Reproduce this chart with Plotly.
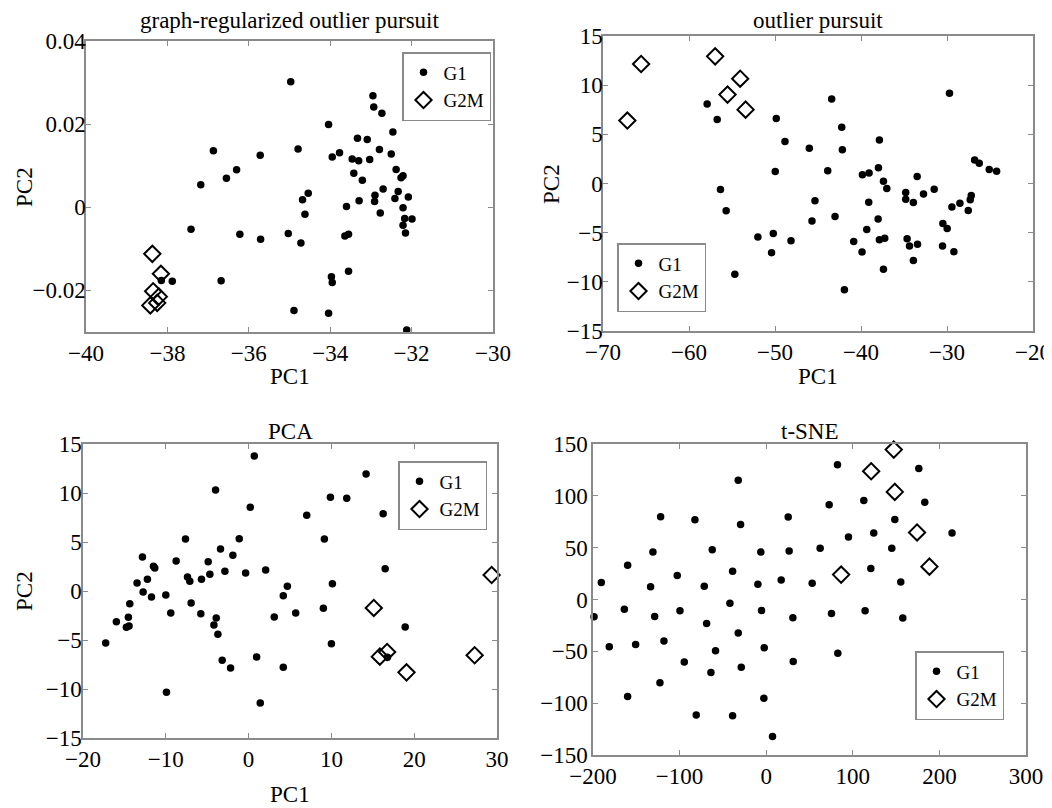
import plotly.graph_objects as go

# ---------------- data ----------------
# Panel 1: graph-regularized outlier pursuit
p1_g1_x = [-34.97, -32.95, -32.93, -32.73, -34.04, -32.46, -33.33, -33.09, -36.87, -35.72,
           -34.79, -33.77, -33.95, -33.46, -33.30, -33.03, -32.79, -32.50, -32.38, -32.26,
           -32.21, -33.42, -33.21, -36.30, -36.55, -37.18, -32.70, -32.33, -32.08, -32.90,
           -32.91, -32.41, -33.29, -34.54, -34.68, -33.60, -32.21, -34.62, -32.77, -32.17,
           -31.99, -32.21, -32.15, -37.42, -36.22, -35.71, -35.03, -34.72, -33.64, -33.55,
           -33.55, -33.97, -33.95, -37.88, -36.68, -34.89, -34.04, -32.12, -38.15]
p1_g1_y = [0.0302, 0.0268, 0.0241, 0.0226, 0.0199, 0.0181, 0.0166, 0.0163, 0.0136, 0.0125,
           0.0140, 0.0131, 0.0121, 0.0116, 0.0112, 0.0115, 0.0139, 0.0128, 0.0091, 0.0071,
           0.0076, 0.0082, 0.0065, 0.0090, 0.0070, 0.0054, 0.0044, 0.0038, 0.0025, 0.0029,
           0.0014, 0.0021, 0.0016, 0.0034, 0.0018, 0.0002, -0.0001, -0.0017, -0.0014, -0.0027,
           -0.0028, -0.0043, -0.0062, -0.0053, -0.0065, -0.0077, -0.0063, -0.0086, -0.0069, -0.0065,
           -0.0154, -0.0167, -0.0181, -0.0178, -0.0177, -0.0248, -0.0255, -0.0295, -0.0176]
p1_g2m_x = [-38.37, -38.16, -38.35, -38.21, -38.25, -38.42]
p1_g2m_y = [-0.0112, -0.0160, -0.0202, -0.0215, -0.0230, -0.0236]

# Panel 2: outlier pursuit
p2_g1_x = [-57.89, -56.72, -49.85, -43.41, -42.24, -42.17, -48.84, -46.01, -37.86, -29.71,
           -26.79, -26.25, -25.09, -24.23, -49.97, -43.87, -37.97, -39.84, -39.06, -37.39,
           -37.00, -33.47, -34.80, -34.80, -33.91, -32.73, -31.49, -27.18, -27.30, -28.50,
           -29.43, -27.53, -56.34, -55.68, -45.35, -39.10, -43.02, -45.70, -38.01, -39.33,
           -30.48, -29.98, -51.99, -50.20, -48.14, -50.40, -40.85, -39.88, -37.86, -37.24,
           -34.64, -34.36, -33.43, -30.52, -29.20, -33.91, -37.39, -54.67, -41.93]
p2_g1_y = [8.09, 6.50, 6.60, 8.60, 5.72, 3.42, 4.26, 3.59, 4.43, 9.17,
           2.40, 2.06, 1.42, 1.25, 1.22, 1.29, 1.59, 0.88, 1.08, 0.24,
           -0.51, 0.71, -0.91, -1.59, -1.93, -1.08, -0.58, -1.22, -1.66, -2.00,
           -2.40, -2.74, -0.61, -2.77, -1.76, -1.90, -3.35, -3.82, -3.62, -4.67,
           -4.06, -4.57, -5.45, -5.08, -5.82, -7.04, -5.89, -6.97, -5.72, -5.58,
           -5.62, -6.36, -6.19, -6.36, -6.94, -7.82, -8.73, -9.24, -10.80]
p2_g2m_x = [-65.57, -67.17, -56.96, -54.05, -55.52, -53.42]
p2_g2m_y = [12.15, 6.40, 12.93, 10.66, 9.04, 7.51]

# Panel 3: PCA
p3_g1_x = [0.69, -3.99, 0.20, 9.88, 11.85, 14.19, 16.25, 7.02, 9.15, -7.62,
           -1.13, -3.39, -1.90, -12.82, -11.49, -11.33, -8.75, -4.88, -4.68, -2.86,
           -0.36, 2.06, 16.49, -7.38, -7.10, -5.69, -12.22, -13.47, -12.74, -11.73,
           -10.00, 10.12, 4.68, 4.19, -14.35, -6.94, -9.40, -5.77, -3.91, -4.19,
           -3.71, 3.10, 5.69, 9.03, -14.52, -15.97, -14.76, -14.44, -17.26, 18.91,
           10.00, -3.19, -2.18, 0.97, 4.19, 16.77, -9.92, 1.41]
p3_g1_y = [13.78, 10.31, 8.54, 9.56, 9.46, 11.94, 7.89, 7.72, 5.31, 5.31,
           5.34, 4.29, 3.64, 3.47, 2.52, 2.35, 3.06, 2.99, 1.70, 2.01,
           1.84, 2.14, 2.28, 1.43, 0.99, 1.19, 1.19, 0.82, -0.10, -0.61,
           -0.41, 0.75, 0.48, -0.48, -1.29, -1.22, -2.24, -2.31, -2.76, -3.47,
           -4.42, -2.65, -2.24, -1.77, -2.69, -3.13, -3.71, -3.57, -5.31, -3.67,
           -5.37, -7.07, -7.86, -6.73, -7.79, -6.77, -10.34, -11.43]
p3_g2m_x = [29.35, 15.12, 15.85, 16.73, 19.07, 27.30]
p3_g2m_y = [1.63, -1.73, -6.70, -6.22, -8.30, -6.56]

# Panel 4: t-SNE
p4_g1_x = [82.3, -32.3, 176.2, 72.7, 112.7, 183.1, -121.9, -82.3, -29.6, 25.4,
           148.5, 95.0, 124.2, 214.6, -130.8, -62.3, -6.2, 26.5, 62.3, 145.0,
           -160.0, -102.7, -38.8, 120.8, -190.4, -133.5, -71.5, -9.6, 17.3, 53.1,
           155.4, -198.8, -163.8, -128.8, -99.6, -41.9, -5.4, 30.8, 75.4, 114.2,
           157.7, -68.8, -32.3, -181.2, -150.8, -118.1, -58.5, -2.3, 82.7, -94.6,
           -63.8, -28.8, 31.2, -122.7, -160.0, -2.7, -80.8, -38.8, 7.3]
p4_g1_y = [130.1, 115.1, 126.3, 91.3, 95.5, 93.9, 79.8, 76.9, 72.4, 79.5,
           77.2, 60.3, 64.1, 64.1, 45.8, 48.1, 45.8, 46.8, 49.4, 49.4,
           33.0, 23.1, 27.2, 29.8, 16.3, 12.2, 12.8, 14.7, 18.9, 15.7,
           17.0, -16.7, -9.3, -16.3, -10.9, -3.5, -10.6, -17.6, -13.5, -10.9,
           -17.9, -23.1, -32.4, -45.5, -43.3, -40.1, -49.4, -46.5, -51.9, -60.3,
           -70.5, -65.4, -59.9, -80.4, -93.6, -95.2, -111.5, -112.2, -132.1]
p4_g2m_x = [147.3, 121.2, 148.5, 174.2, 188.5, 86.5]
p4_g2m_y = [144.6, 123.7, 103.8, 64.7, 31.7, 24.0]

titles = ["graph-regularized outlier pursuit", "outlier pursuit", "PCA", "t-SNE"]
series_names = ["G1", "G2M"]

p1_xticks = [-40, -38, -36, -34, -32, -30]
p1_yticks = [-0.02, 0, 0.02, 0.04]
p1_yticktext = ["\u22120.02", "0", "0.02", "0.04"]
p2_xticks = [-70, -60, -50, -40, -30, -20]
p2_yticks = [-15, -10, -5, 0, 5, 10, 15]
p3_xticks = [-20, -10, 0, 10, 20, 30]
p3_yticks = [-15, -10, -5, 0, 5, 10, 15]
p4_xticks = [-200, -100, 0, 100, 200, 300]
p4_yticks = [-150, -100, -50, 0, 50, 100, 150]

# ---------------- figure ----------------
# The page body has an 8px default margin, so the figure is placed at (8, 8)
# inside the 1052x808 window; all layout positions below are window pixels.
OFF = 8
W, H = 1052 - OFF, 808 - OFF
FONT = "Liberation Serif"
FRAME = "#8a8a8a"


def px_x(p):
    return (p - OFF) / W


def px_y(p):
    return 1 - (p - OFF) / H


fig = go.Figure()

panels = [
    (p1_g1_x, p1_g1_y, p1_g2m_x, p1_g2m_y, "legend"),
    (p2_g1_x, p2_g1_y, p2_g2m_x, p2_g2m_y, "legend2"),
    (p3_g1_x, p3_g1_y, p3_g2m_x, p3_g2m_y, "legend3"),
    (p4_g1_x, p4_g1_y, p4_g2m_x, p4_g2m_y, "legend4"),
]
for i, (gx, gy, dx, dy, lg) in enumerate(panels):
    suf = "" if i == 0 else str(i + 1)
    fig.add_trace(go.Scatter(
        x=gx, y=gy, mode="markers", name=series_names[0],
        xaxis="x" + suf, yaxis="y" + suf, legend=lg, cliponaxis=False,
        marker=dict(symbol="circle", size=7.5, color="black", line=dict(width=0)),
    ))
    fig.add_trace(go.Scatter(
        x=dx, y=dy, mode="markers", name=series_names[1],
        xaxis="x" + suf, yaxis="y" + suf, legend=lg, cliponaxis=False,
        marker=dict(symbol="diamond-open", size=12.5, color="black",
                    line=dict(width=2, color="black")),
    ))

# panel boxes in window pixels: (left, right, top, bottom)
boxes = [(86, 493, 41, 332), (603, 1033, 36, 331), (83, 497, 444, 738), (593, 1026, 444, 755)]
ranges = [
    ([-40, -30], [-0.03, 0.04], p1_xticks, p1_yticks, p1_yticktext),
    ([-70, -20], [-15, 15], p2_xticks, p2_yticks, None),
    ([-20, 30], [-15, 15], p3_xticks, p3_yticks, None),
    ([-200, 300], [-150, 150], p4_xticks, p4_yticks, None),
]
y_standoffs = [-6, -6, -5, -1]

axis_common = dict(
    showline=True, linecolor=FRAME, linewidth=1.5, mirror="ticks",
    ticks="inside", ticklen=5, tickwidth=1, tickcolor=FRAME,
    showgrid=False, zeroline=False, automargin=False,
    tickfont=dict(family=FONT, size=23, color="black"),
)

layout = {}
for i, ((l, r, t, b), (xr, yr, xt, yt, ytt)) in enumerate(zip(boxes, ranges)):
    suf = "" if i == 0 else str(i + 1)
    xa = dict(axis_common, domain=[px_x(l), px_x(r)], range=xr, anchor="y" + suf,
              tickmode="array", tickvals=xt, ticklabelstandoff=0)
    ya = dict(axis_common, domain=[px_y(b), px_y(t)], range=yr, anchor="x" + suf,
              tickmode="array", tickvals=yt, ticklabelstandoff=y_standoffs[i])
    if ytt is not None:
        ya["ticktext"] = ytt
    layout["xaxis" + suf] = xa
    layout["yaxis" + suf] = ya

legend_common = dict(
    bgcolor="white", bordercolor=FRAME, borderwidth=1.5,
    font=dict(family=FONT, size=19, color="black"),
    xanchor="left", yanchor="top", tracegroupgap=0, itemwidth=30,
)
layout["legend"] = dict(legend_common, x=px_x(402), y=px_y(52))
layout["legend2"] = dict(legend_common, x=px_x(617), y=px_y(243))
layout["legend3"] = dict(legend_common, x=px_x(398), y=px_y(461))
layout["legend4"] = dict(legend_common, x=px_x(915), y=px_y(651))

annotations = []
title_pos = [(289, 20), (818, 20), (290, 431), (810, 431)]
for txt, (cx, cy) in zip(titles, title_pos):
    annotations.append(dict(text=txt, x=px_x(cx), y=px_y(cy), xref="paper", yref="paper",
                            xanchor="center", yanchor="middle", showarrow=False,
                            font=dict(family=FONT, size=23, color="black")))
axis_titles = [("PC1", 290, 377, 0), ("PC2", 24, 187, -90),
               ("PC1", 818, 377, 0), ("PC2", 552, 184, -90),
               ("PC1", 290, 794, 0), ("PC2", 24, 591, -90)]
for txt, cx, cy, ang in axis_titles:
    annotations.append(dict(text=txt, x=px_x(cx), y=px_y(cy), xref="paper", yref="paper",
                            xanchor="center", yanchor="middle", showarrow=False, textangle=ang,
                            font=dict(family=FONT, size=23, color="black")))

fig.update_layout(
    template="none",
    width=W, height=H, margin=dict(l=0, r=0, t=0, b=0, autoexpand=False),
    paper_bgcolor="white", plot_bgcolor="white",
    font=dict(family=FONT, color="black"),
    annotations=annotations, showlegend=True,
    **layout,
)

fig.write_html("out.html")
